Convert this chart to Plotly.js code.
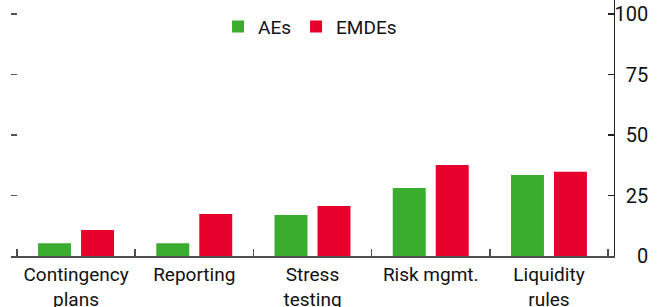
<!DOCTYPE html>
<html>
<head>
<meta charset="utf-8">
<script src="https://cdn.plot.ly/plotly-3.0.1.min.js"></script>
<style>html,body{margin:0;padding:0;background:#fff;}#chart{width:658px;height:307px;}</style>
</head>
<body>
<div id="chart"></div>
<script>
const categories = ["Contingency<br>plans", "Reporting", "Stress<br>testing", "Risk mgmt.", "Liquidity<br>rules"];
const aesValues = [5.3, 5.3, 16.9, 28.1, 33.5];
const emdesValues = [10.7, 17.4, 20.7, 37.6, 34.8];
const tickValues = [0, 25, 50, 75, 100];
const tickLabels = ["0", "25", "50", "75", "100"];

const FONT = "Roboto, 'Liberation Sans Narrow', sans-serif";
const yRange = [0, 105.8];

const data = [
  {type: "bar", name: "AEs", x: categories, y: aesValues, marker: {color: "#3aac2e"}, hoverinfo: "skip"},
  {type: "bar", name: "EMDEs", x: categories, y: emdesValues, marker: {color: "#e8002c"}, hoverinfo: "skip"},
  {type: "scatter", x: [], y: [], yaxis: "y2", showlegend: false, hoverinfo: "skip"},
  {type: "scatter", x: [], y: [], yaxis: "y3", showlegend: false, hoverinfo: "skip"}
];

const layout = {
  width: 658, height: 307,
  margin: {l: 11, r: 6, t: 0, b: 51},
  paper_bgcolor: "#fff", plot_bgcolor: "#fff",
  font: {family: FONT, size: 19, color: "#111"},
  barmode: "group", bargap: 0.273, bargroupgap: 0.233,
  showlegend: true,
  legend: {orientation: "h", x: 0.323, xanchor: "left", y: 0.97, yanchor: "top",
           font: {family: FONT, size: 19, color: "#111"}, bgcolor: "rgba(0,0,0,0)"},
  xaxis: {type: "category", domain: [0, 603/641], range: [-0.55, 4.55], tickson: "boundaries",
          ticks: "inside", ticklen: 7, tickwidth: 1.5, tickcolor: "#4d4d4d", tickangle: 0,
          showline: true, linecolor: "#4d4d4d", linewidth: 2, showgrid: false, zeroline: false,
          tickfont: {family: FONT, size: 19, color: "#111"}, fixedrange: true},
  yaxis: {range: yRange, tickvals: tickValues, ticks: "inside", ticklen: 6, tickwidth: 1.5, tickcolor: "#555",
          showticklabels: false, showgrid: false, zeroline: false, showline: false, fixedrange: true},
  yaxis2: {overlaying: "y", side: "right", anchor: "x", range: yRange, tickvals: tickValues,
           ticks: "inside", ticklen: 6, tickwidth: 1.2, tickcolor: "#222", showticklabels: false,
           showline: true, linecolor: "#222", linewidth: 1.2, showgrid: false, zeroline: false, fixedrange: true},
  yaxis3: {overlaying: "y", side: "left", anchor: "free", position: 0.994, range: yRange,
           tickvals: tickValues, ticktext: tickLabels, ticks: "", showline: false, showgrid: false, zeroline: false,
           tickfont: {family: FONT, size: 20, color: "#111"}, fixedrange: true}
};

Plotly.newPlot("chart", data, layout, {staticPlot: true, displayModeBar: false});
</script>
</body>
</html>
